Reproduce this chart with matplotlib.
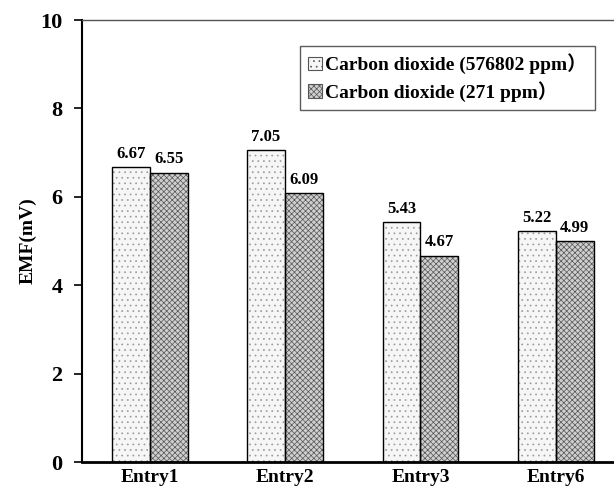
import matplotlib
matplotlib.use("Agg")
import matplotlib.pyplot as plt
import numpy as np
from matplotlib.patches import Patch

plt.rcParams['font.family'] = ['Liberation Serif', 'Noto Sans CJK SC']
plt.rcParams['font.weight'] = 'bold'
plt.rcParams['hatch.linewidth'] = 0.5

categories = ["Entry1", "Entry2", "Entry3", "Entry6"]
high_co2 = [6.67, 7.05, 5.43, 5.22]
low_co2 = [6.55, 6.09, 4.67, 4.99]
series_labels = ["Carbon dioxide (576802 ppm\uff09", "Carbon dioxide (271 ppm\uff09"]
yticks = [0, 2, 4, 6, 8, 10]

fig = plt.figure(figsize=(6.14, 4.9), dpi=100)
ax = fig.add_axes([0.1336, 0.0571, 0.8664, 0.902])

x = np.arange(len(categories))
w = 0.28
# hatched fills (gray hatch), then black outlines on top
ax.bar(x - w/2, high_co2, w, facecolor='#f6f6f6', edgecolor='#9a9a9a', linewidth=0,
       hatch='...')
ax.bar(x + w/2, low_co2, w, facecolor='#cfcfcf', edgecolor='#555555', linewidth=0,
       hatch='xxxxxx')
b1 = ax.bar(x - w/2, high_co2, w, facecolor='none', edgecolor='black', linewidth=1.0)
b2 = ax.bar(x + w/2, low_co2, w, facecolor='none', edgecolor='black', linewidth=1.0)

h1 = Patch(facecolor='#f6f6f6', edgecolor='#555555', hatch='...', linewidth=0.8)
h2 = Patch(facecolor='#cfcfcf', edgecolor='#555555', hatch='xxxxxx', linewidth=0.8)

for bars, vals in ((b1, high_co2), (b2, low_co2)):
    for r, v in zip(bars, vals):
        ax.text(r.get_x() + r.get_width()/2, v + 0.12, f"{v:.2f}", ha='center', va='bottom',
                fontsize=12, fontweight='bold')

ax.set_xlim(-0.5, 3.43)
ax.set_ylim(0, 10)
ax.set_yticks(yticks)
ax.set_yticklabels([str(t) for t in yticks], fontsize=16, fontweight='bold')
ax.set_xticks(x)
ax.set_xticklabels(categories, fontsize=14, fontweight='bold')
ax.tick_params(axis='x', length=0, pad=5)
ax.tick_params(axis='y', direction='out', length=6, width=1.2, pad=8)
ax.set_ylabel("EMF(mV)", fontsize=14, fontweight='bold', labelpad=3)

ax.spines['right'].set_visible(False)
ax.spines['top'].set_color('#555555')
ax.spines['top'].set_linewidth(1.0)
ax.spines['left'].set_linewidth(1.5)
ax.spines['bottom'].set_linewidth(2.0)

leg = ax.legend([h1, h2], series_labels, loc='upper right', bbox_to_anchor=(0.975, 0.955),
                prop={'size': 14, 'weight': 'bold'},
                frameon=True, fancybox=False, edgecolor='#333333', handlelength=0.7,
                handleheight=0.7, handletextpad=0.2, borderpad=0.4, labelspacing=0.35,
                borderaxespad=0.3)
leg.get_frame().set_linewidth(1.0)

fig.savefig("out.png", dpi=100)
